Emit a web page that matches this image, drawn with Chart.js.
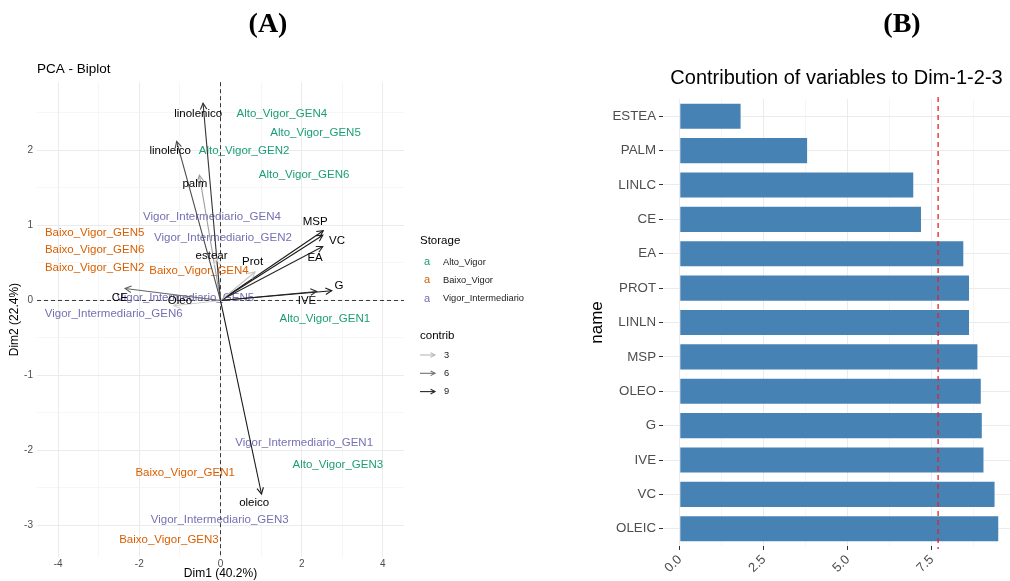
<!DOCTYPE html>
<html>
<head>
<meta charset="utf-8">
<script src="https://cdn.jsdelivr.net/npm/chart.js@4.4.1/dist/chart.umd.min.js"></script>
<style>
  html, body { margin: 0; padding: 0; background: #fff; width: 1010px; height: 581px; overflow: hidden; }
  .panel { position: absolute; top: 0; }
  #wrapA { left: 0; width: 560px; height: 581px; }
  #wrapB { left: 560px; width: 450px; height: 581px; }
  .tag { position: absolute; z-index: 2; font-family: "Liberation Serif", "Times New Roman", serif;
         font-weight: bold; font-size: 28px; line-height: 32px; color: #000; transform: translateX(-50%); }
</style>
</head>
<body>
<div class="panel" id="wrapA"><canvas id="pca" width="560" height="581"></canvas></div>
<div class="panel" id="wrapB"><canvas id="contrib" width="450" height="581"></canvas></div>
<div class="tag" style="left:268px; top:7px;">(A)</div>
<div class="tag" style="left:902px; top:7px;">(B)</div>
<script>
// ---------- PCA biplot: individuals ----------
const genoNames = [
  'Alto_Vigor_GEN1', 'Alto_Vigor_GEN2', 'Alto_Vigor_GEN3', 'Alto_Vigor_GEN4', 'Alto_Vigor_GEN5', 'Alto_Vigor_GEN6',
  'Baixo_Vigor_GEN1', 'Baixo_Vigor_GEN2', 'Baixo_Vigor_GEN3', 'Baixo_Vigor_GEN4', 'Baixo_Vigor_GEN5', 'Baixo_Vigor_GEN6',
  'Vigor_Intermediario_GEN1', 'Vigor_Intermediario_GEN2', 'Vigor_Intermediario_GEN3', 'Vigor_Intermediario_GEN4',
  'Vigor_Intermediario_GEN5', 'Vigor_Intermediario_GEN6'
];
const genoDim1 = [2.57, 0.58, 2.89, 1.51, 2.34, 2.06, -0.87, -3.10, -1.27, -0.53, -3.10, -3.10, 2.06, 0.06, -0.02, -0.21, -0.87, -2.63];
const genoDim2 = [-0.25, 2.00, -2.19, 2.49, 2.23, 1.68, -2.30, 0.44, -3.19, 0.39, 0.90, 0.68, -1.90, 0.83, -2.92, 1.12, 0.04, -0.18];
const genoGroup = [
  'Alto_Vigor', 'Alto_Vigor', 'Alto_Vigor', 'Alto_Vigor', 'Alto_Vigor', 'Alto_Vigor',
  'Baixo_Vigor', 'Baixo_Vigor', 'Baixo_Vigor', 'Baixo_Vigor', 'Baixo_Vigor', 'Baixo_Vigor',
  'Vigor_Intermediario', 'Vigor_Intermediario', 'Vigor_Intermediario', 'Vigor_Intermediario',
  'Vigor_Intermediario', 'Vigor_Intermediario'
];
const groupNames = ['Alto_Vigor', 'Baixo_Vigor', 'Vigor_Intermediario'];
const groupColors = ['#1B9E77', '#D95F02', '#7570B3'];

// ---------- PCA biplot: variables ----------
const varNames = ['linolenico', 'linoleico', 'palm', 'estear', 'Prot', 'MSP', 'VC', 'EA', 'G', 'IVE', 'CE', 'Oleo', 'oleico'];
const varDim1 = [-0.43, -1.08, -0.52, -0.10, 0.85, 2.53, 2.52, 2.52, 2.74, 2.37, -2.35, -1.15, 1.01];
const varDim2 = [2.63, 2.12, 1.67, 0.55, 0.38, 0.93, 0.87, 0.72, 0.13, 0.12, 0.16, -0.07, -2.58];
const varContrib = [8.5, 7.5, 4, 1.5, 2.5, 9.5, 9.5, 9, 9.5, 8.5, 6.5, 2, 10];
const varLabelDim1 = [-0.55, -1.24, -0.63, -0.22, 0.79, 2.33, 2.87, 2.33, 2.92, 2.13, -2.48, -1.00, 0.83];
const varLabelDim2 = [2.49, 2.00, 1.55, 0.59, 0.51, 1.05, 0.79, 0.57, 0.20, -0.01, 0.04, -0.01, -2.70];
const legendContrib = [3, 6, 9];

// axis breaks of the biplot
const pcaXBreaks = [-4, -2, 0, 2, 4];
const pcaXMinor = [-3, -1, 1, 3];
const pcaYBreaks = [-3, -2, -1, 0, 1, 2];
const pcaYMinor = [-2.5, -1.5, -0.5, 0.5, 1.5, 2.5];

// ---------- contribution bar chart ----------
const contribNames = ['ESTEA', 'PALM', 'LINLC', 'CE', 'EA', 'PROT', 'LINLN', 'MSP', 'OLEO', 'G', 'IVE', 'VC', 'OLEIC'];
const contribValues = [1.81, 3.79, 6.95, 7.18, 8.44, 8.61, 8.61, 8.86, 8.96, 8.99, 9.04, 9.37, 9.48];
const expectedContrib = 7.69;
const contribBreaks = [0, 2.5, 5, 7.5];
const contribMinor = [1.25, 3.75, 6.25, 8.75];

const FONT = '"Liberation Sans", Arial, Helvetica, sans-serif';
Chart.defaults.font.family = FONT;

function contribGray(c) {
  const v = Math.round(Math.max(25, Math.min(225, 255 - 24 * c)));
  return 'rgb(' + v + ',' + v + ',' + v + ')';
}

function arrowHead(ctx, x0, y0, x1, y1, len, color, width) {
  const ang = Math.atan2(y1 - y0, x1 - x0);
  const spread = Math.PI / 6.5;
  ctx.strokeStyle = color;
  ctx.lineWidth = width;
  ctx.beginPath();
  ctx.moveTo(x1 - len * Math.cos(ang - spread), y1 - len * Math.sin(ang - spread));
  ctx.lineTo(x1, y1);
  ctx.lineTo(x1 - len * Math.cos(ang + spread), y1 - len * Math.sin(ang + spread));
  ctx.stroke();
}

function tickList(major, minor) {
  return major.concat(minor).sort((a, b) => a - b).map(v => ({ value: v }));
}

// ---------- biplot datasets ----------
const pcaDatasets = [];
groupNames.forEach((g, gi) => {
  const pts = [];
  genoNames.forEach((n, i) => {
    if (genoGroup[i] === g) pts.push({ x: genoDim1[i], y: genoDim2[i], name: n });
  });
  pcaDatasets.push({ label: g, kind: 'ind', textColor: groupColors[gi], data: pts, pointRadius: 0, pointHoverRadius: 0 });
});
varNames.forEach((v, i) => {
  pcaDatasets.push({
    label: v, kind: 'var', varIndex: i, showLine: true,
    data: [{ x: 0, y: 0 }, { x: varDim1[i], y: varDim2[i] }],
    borderColor: contribGray(varContrib[i]), borderWidth: 1.1, pointRadius: 0, pointHoverRadius: 0, fill: false
  });
});

const pcaPlugin = {
  id: 'pcaMarks',
  beforeDatasetsDraw(chart) {
    const { ctx, chartArea: a, scales: { x, y } } = chart;
    ctx.save();
    // dashed reference lines through the origin
    const x0 = x.getPixelForValue(0), y0 = y.getPixelForValue(0);
    ctx.strokeStyle = '#222';
    ctx.lineWidth = 0.9;
    ctx.setLineDash([4, 3]);
    ctx.beginPath();
    ctx.moveTo(a.left, y0); ctx.lineTo(a.right, y0);
    ctx.moveTo(x0, a.top); ctx.lineTo(x0, a.bottom);
    ctx.stroke();
    ctx.setLineDash([]);
    // genotype names at the individuals' coordinates
    ctx.font = '11.5px ' + FONT;
    ctx.textAlign = 'center';
    ctx.textBaseline = 'middle';
    chart.data.datasets.forEach((ds, di) => {
      if (ds.kind !== 'ind') return;
      const meta = chart.getDatasetMeta(di);
      ctx.fillStyle = ds.textColor;
      meta.data.forEach((pt, i) => ctx.fillText(ds.data[i].name, pt.x, pt.y));
    });
    ctx.restore();
  },
  afterDatasetsDraw(chart) {
    const { ctx, scales: { x, y } } = chart;
    ctx.save();
    chart.data.datasets.forEach((ds, di) => {
      if (ds.kind !== 'var') return;
      const meta = chart.getDatasetMeta(di);
      const p0 = meta.data[0], p1 = meta.data[1];
      arrowHead(ctx, p0.x, p0.y, p1.x, p1.y, 7, ds.borderColor, ds.borderWidth);
    });
    ctx.font = '11.5px ' + FONT;
    ctx.textAlign = 'center';
    ctx.textBaseline = 'middle';
    ctx.fillStyle = '#000';
    varNames.forEach((v, i) => {
      ctx.fillText(v, x.getPixelForValue(varLabelDim1[i]), y.getPixelForValue(varLabelDim2[i]));
    });
    ctx.restore();
  },
  afterDraw(chart) {
    const { ctx, chartArea: a } = chart;
    const lx = a.right + 16;
    ctx.save();
    ctx.textBaseline = 'middle';
    ctx.textAlign = 'left';
    // colour legend
    ctx.fillStyle = '#000';
    ctx.font = '11.5px ' + FONT;
    ctx.fillText('Storage', lx, 241);
    groupNames.forEach((g, i) => {
      const yy = 262 + i * 18.3;
      ctx.font = '11px ' + FONT;
      ctx.fillStyle = groupColors[i];
      ctx.textAlign = 'center';
      ctx.fillText('a', lx + 7, yy);
      ctx.font = '9.3px ' + FONT;
      ctx.fillStyle = '#1a1a1a';
      ctx.textAlign = 'left';
      ctx.fillText(g, lx + 23, yy);
    });
    // contribution legend
    ctx.fillStyle = '#000';
    ctx.font = '11.5px ' + FONT;
    ctx.fillText('contrib', lx, 336);
    legendContrib.forEach((c, i) => {
      const yy = 355 + i * 18.3;
      const col = contribGray(c);
      ctx.strokeStyle = col;
      ctx.lineWidth = 1.1;
      ctx.beginPath(); ctx.moveTo(lx, yy); ctx.lineTo(lx + 15, yy); ctx.stroke();
      arrowHead(ctx, lx, yy, lx + 15, yy, 5, col, 1.1);
      ctx.font = '9.3px ' + FONT;
      ctx.fillStyle = '#1a1a1a';
      ctx.fillText(String(c), lx + 24, yy);
    });
    ctx.restore();
  }
};

const gridGray = '#ebebeb';

new Chart(document.getElementById('pca'), {
  type: 'scatter',
  data: { datasets: pcaDatasets },
  plugins: [pcaPlugin],
  options: {
    responsive: false,
    animation: false,
    events: [],
    layout: { padding: { left: 0, right: 156, top: 0, bottom: 0 } },
    plugins: {
      legend: { display: false },
      tooltip: { enabled: false },
      title: {
        display: true, text: 'PCA - Biplot', align: 'start', fullSize: false,
        color: '#000', font: { size: 13.5, weight: 'normal' }, padding: { top: 61, bottom: 5 }
      }
    },
    scales: {
      x: {
        type: 'linear', min: -4.52, max: 4.52,
        afterBuildTicks: s => { s.ticks = tickList(pcaXBreaks, pcaXMinor); },
        afterFit: s => { s.height = 24; },
        ticks: {
          autoSkip: false, maxRotation: 0, padding: 1, color: '#4d4d4d', font: { size: 10 },
          callback: v => (pcaXBreaks.includes(v) ? String(v) : '')
        },
        grid: {
          drawTicks: false,
          color: c => (pcaXBreaks.includes(c.tick.value) ? gridGray : '#f2f2f2'),
          lineWidth: c => (pcaXBreaks.includes(c.tick.value) ? 1 : 0.7)
        },
        border: { display: false },
        title: { display: true, text: 'Dim1 (40.2%)', color: '#000', font: { size: 12 }, padding: { top: 0, bottom: 0 } }
      },
      y: {
        type: 'linear', min: -3.42, max: 2.91,
        afterBuildTicks: s => { s.ticks = tickList(pcaYBreaks, pcaYMinor); },
        afterFit: s => { s.width = 37; },
        ticks: {
          autoSkip: false, padding: 4, color: '#4d4d4d', font: { size: 10 },
          callback: v => (pcaYBreaks.includes(v) ? String(v) : '')
        },
        grid: {
          drawTicks: false,
          color: c => (pcaYBreaks.includes(c.tick.value) ? gridGray : '#f2f2f2'),
          lineWidth: c => (pcaYBreaks.includes(c.tick.value) ? 1 : 0.7)
        },
        border: { display: false },
        title: { display: true, text: 'Dim2 (22.4%)', color: '#000', font: { size: 12 }, padding: { top: 7, bottom: 0 } }
      }
    }
  }
});

// ---------- contribution chart ----------
const expectedLine = {
  id: 'expectedLine',
  afterDatasetsDraw(chart) {
    const { ctx, chartArea: a, scales: { x } } = chart;
    const px = x.getPixelForValue(expectedContrib);
    ctx.save();
    ctx.strokeStyle = '#e8202e';
    ctx.lineWidth = 1.3;
    ctx.setLineDash([5, 4]);
    ctx.beginPath();
    ctx.moveTo(px, a.top - 2);
    ctx.lineTo(px, a.bottom + 3);
    ctx.stroke();
    ctx.restore();
  }
};

new Chart(document.getElementById('contrib'), {
  type: 'bar',
  data: {
    labels: contribNames,
    datasets: [{
      data: contribValues, backgroundColor: '#4682B4', borderWidth: 0,
      barPercentage: 0.73, categoryPercentage: 1
    }]
  },
  plugins: [expectedLine],
  options: {
    indexAxis: 'y',
    responsive: false,
    animation: false,
    events: [],
    layout: { padding: { left: 0, right: 0, top: 0, bottom: 0 } },
    plugins: {
      legend: { display: false },
      tooltip: { enabled: false },
      title: {
        display: true, text: 'Contribution of variables to Dim-1-2-3', align: 'center', fullSize: false,
        color: '#000', font: { size: 20, weight: 'normal' }, padding: { top: 66, bottom: 9 }
      }
    },
    scales: {
      x: {
        type: 'linear', min: -0.5, max: 9.83,
        afterBuildTicks: s => { s.ticks = tickList(contribBreaks, contribMinor); },
        afterFit: s => { s.height = 35; },
        ticks: {
          autoSkip: false, minRotation: 45, maxRotation: 45, padding: 2, color: '#4d4d4d', font: { size: 13 },
          callback: v => (contribBreaks.includes(v) ? v.toFixed(1) : '')
        },
        grid: {
          drawTicks: true, tickLength: 4,
          color: c => (contribBreaks.includes(c.tick.value) ? gridGray : '#f0f0f0'),
          lineWidth: c => (contribBreaks.includes(c.tick.value) ? 1 : 0.7),
          tickColor: c => (contribBreaks.includes(c.tick.value) ? '#333' : 'rgba(0,0,0,0)')
        },
        border: { display: false }
      },
      y: {
        type: 'category',
        afterFit: s => { s.width = 103; },
        ticks: { autoSkip: false, padding: 3, color: '#4d4d4d', font: { size: 13.3 } },
        grid: { offset: false, drawTicks: true, tickLength: 4, color: gridGray, tickColor: '#333' },
        border: { display: false },
        title: { display: true, text: 'name', color: '#000', font: { size: 17 }, padding: { top: 27, bottom: 0 } }
      }
    }
  }
});
</script>
</body>
</html>
